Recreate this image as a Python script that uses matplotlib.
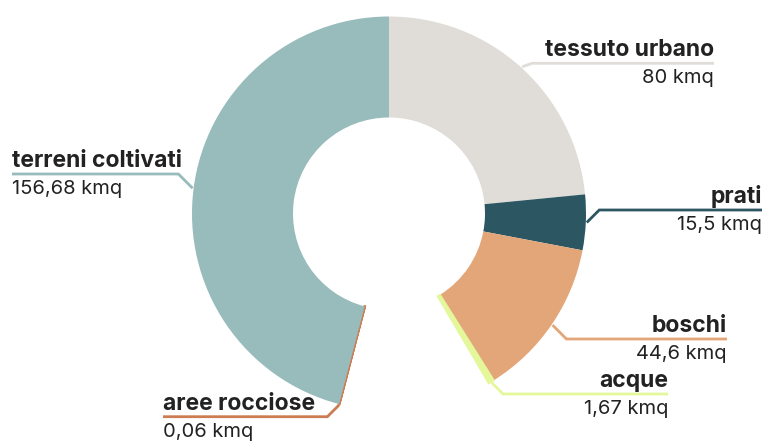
import numpy as np
import matplotlib
matplotlib.use("Agg")
import matplotlib.pyplot as plt

# ---- data ----
categories = ["tessuto urbano", "prati", "boschi", "acque", "aree rocciose", "terreni coltivati"]
values = [80, 15.5, 44.6, 1.67, 0.06, 156.68]
value_labels = ["80 kmq", "15,5 kmq", "44,6 kmq", "1,67 kmq", "0,06 kmq", "156,68 kmq"]
colors = ["#e0ddd8", "#2c5662", "#e3a679", "#e4f79a", "#cc7c52", "#98bbbc"]

# ---- layout ----
W, H = 766, 442
fig = plt.figure(figsize=(W / 100, H / 100), dpi=100)
ax = fig.add_axes([0, 0, 1, 1])
plt.rcParams['font.family'] = ['Inter', 'DejaVu Sans']

cx, cy = 389, H - 213.5
R, ring = 197, 101
span_deg = 315  # donut covers 7/8 of the circle
total = sum(values)
gap = total * (360 - span_deg) / span_deg

# order: clockwise from top, gap between acque and aree rocciose
pie_vals = values[:4] + [gap] + values[4:]
pie_cols = colors[:4] + ["white"] + colors[4:]
wedges, _ = ax.pie(pie_vals, colors=pie_cols, startangle=90, counterclock=False,
                   radius=R, center=(cx, cy),
                   wedgeprops=dict(width=ring, linewidth=0))
wedges[4].set_visible(False)
data_wedges = wedges[:4] + wedges[5:]
# thin slices get an outline so they remain visible
data_wedges[3].set_edgecolor(colors[3]); data_wedges[3].set_linewidth(1.2)
data_wedges[4].set_edgecolor(colors[4]); data_wedges[4].set_linewidth(1.8)

# label layout: (line y in image px, end x, side)
layout = {
    "tessuto urbano": (63.3, 714, "right"),
    "prati": (210, 762, "right"),
    "boschi": (339, 727, "right"),
    "acque": (394, 668, "right"),
    "aree rocciose": (416.7, 163, "left"),
    "terreni coltivati": (174, 12, "left"),
}

for w, cat, vlab, col in zip(data_wedges, categories, value_labels, colors):
    ang = np.deg2rad((w.theta1 + w.theta2) / 2)
    sx = cx + (R + 1) * np.cos(ang)
    sy = cy + (R + 1) * np.sin(ang)
    ly_img, ex, side = layout[cat]
    ly = H - ly_img
    d = max(abs(ly - sy), 10)
    elx = sx + d if side == "right" else sx - d
    ax.plot([sx, elx, ex], [sy, ly, ly], color=col, lw=2.0,
            solid_capstyle="butt", solid_joinstyle="miter", zorder=3)
    ha = "right" if side == "right" else "left"
    ax.text(ex, ly + 13, cat, ha=ha, va="center", fontsize=16.5,
            fontweight="bold", color="#222222")
    ax.text(ex, ly - 15, vlab, ha=ha, va="center", fontsize=14.5,
            color="#222222")

ax.set_xlim(0, W)
ax.set_ylim(0, H)
ax.set_aspect("equal")
ax.axis("off")
fig.savefig("out.png", dpi=100)
